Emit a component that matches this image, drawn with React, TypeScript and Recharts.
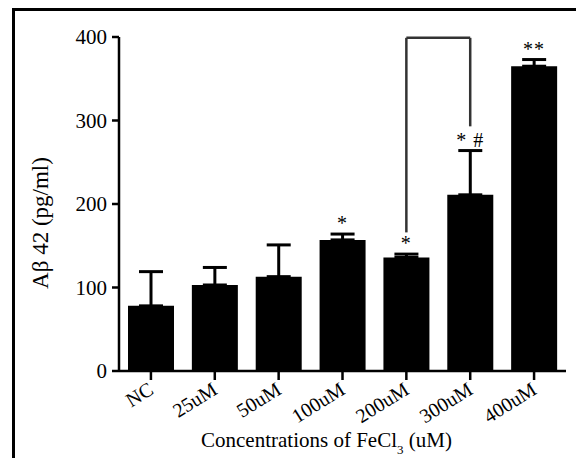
import {
  ComposedChart,
  Bar,
  ErrorBar,
  Scatter,
  XAxis,
  YAxis,
  ReferenceLine,
} from "recharts";

const categories = ["NC", "25uM", "50uM", "100uM", "200uM", "300uM", "400uM"];
const means = [78, 103, 113, 157, 136, 211, 365];
const sds = [41, 21, 38, 7, 4, 53, 8];
const marks = ["", "", "", "*", "*", "* #", "**"];
const yTicks = [0, 100, 200, 300, 400];

// bracket between 200uM and 300uM
const bracketFrom = "200uM";
const bracketTo = "300uM";
const bracketTop = 399;
const bracketLeftEnd = 166;
const bracketRightEnd = 293;

const FONT = '"Liberation Serif", "Times New Roman", serif';

const data = categories.map((name, i) => ({
  name,
  mean: means[i],
  err: [0, sds[i]],
  capTop: means[i] + sds[i],
  sig: marks[i],
}));

function SlantTick(props: any) {
  const { x, y, payload } = props;
  return (
    <g transform={`translate(${x - 3},${y})`}>
      <text
        x={0}
        y={0}
        dy={13}
        textAnchor="end"
        transform="rotate(-32)"
        fontFamily={FONT}
        fontSize={20}
        fill="#000"
      >
        {payload.value}
      </text>
    </g>
  );
}

function SigMark(props: any) {
  const { cx, cy, payload } = props;
  if (!payload || !payload.sig) return <g />;
  return (
    <text
      x={cx}
      y={cy - 4}
      textAnchor="middle"
      fontFamily={FONT}
      fontSize={20}
      letterSpacing={1}
      fill="#000"
    >
      {payload.sig}
    </text>
  );
}

function YTitle(props: any) {
  const { x, y, height } = props.viewBox;
  const cx = x + 40;
  const cy = y + height / 2 + 19;
  return (
    <text
      x={cx}
      y={cy}
      transform={`rotate(-90, ${cx}, ${cy})`}
      textAnchor="middle"
      dominantBaseline="central"
      fontFamily={FONT}
      fontSize={23}
      fill="#000"
    >
      Aβ 42 (pg/ml)
    </text>
  );
}

function XTitle(props: any) {
  const { x, y, width } = props.viewBox;
  return (
    <text
      x={x + width / 2 - 16}
      y={y + 76}
      textAnchor="middle"
      fontFamily={FONT}
      fontSize={21}
      fill="#000"
    >
      Concentrations of FeCl
      <tspan fontSize={13} dy={7}>
        3
      </tspan>
      <tspan dy={-7}> (uM)</tspan>
    </text>
  );
}

export default function App() {
  return (
    <div
      style={{
        position: "relative",
        width: 584,
        height: 466,
        margin: -8,
        overflow: "hidden",
        background: "#fff",
      }}
    >
      <div
        style={{
          position: "absolute",
          left: 12,
          top: 8,
          width: 600,
          height: 500,
          borderTop: "3px solid #000",
          borderLeft: "3px solid #000",
        }}
      />
      <div style={{ position: "absolute", left: 0, top: 0 }}>
        <ComposedChart
          width={584}
          height={466}
          data={data}
          margin={{ top: 37, right: 18, left: 0, bottom: 0 }}
        >
          <XAxis
            dataKey="name"
            height={95}
            interval={0}
            tickSize={9}
            tickMargin={2}
            axisLine={{ stroke: "#000", strokeWidth: 2.5 }}
            tickLine={{ stroke: "#000", strokeWidth: 2.5 }}
            tick={<SlantTick />}
            label={<XTitle />}
          />
          <YAxis
            width={119}
            domain={[0, 400]}
            ticks={yTicks}
            tickSize={7}
            tickMargin={5}
            axisLine={{ stroke: "#000", strokeWidth: 2.5 }}
            tickLine={{ stroke: "#000", strokeWidth: 2.5 }}
            tick={{ fill: "#000", fontSize: 21, fontFamily: FONT }}
            label={<YTitle />}
          />
          <Bar dataKey="mean" fill="#000" barSize={46} isAnimationActive={false}>
            <ErrorBar dataKey="err" direction="y" width={12} stroke="#000" strokeWidth={3} />
          </Bar>
          <Scatter dataKey="capTop" shape={<SigMark />} isAnimationActive={false} />
          <ReferenceLine
            segment={[
              { x: bracketFrom, y: bracketTop },
              { x: bracketTo, y: bracketTop },
            ]}
            stroke="#333"
            strokeWidth={2.5}
            ifOverflow="visible"
          />
          <ReferenceLine
            segment={[
              { x: bracketFrom, y: bracketLeftEnd },
              { x: bracketFrom, y: bracketTop },
            ]}
            stroke="#333"
            strokeWidth={2.5}
            ifOverflow="visible"
          />
          <ReferenceLine
            segment={[
              { x: bracketTo, y: bracketRightEnd },
              { x: bracketTo, y: bracketTop },
            ]}
            stroke="#333"
            strokeWidth={2.5}
            ifOverflow="visible"
          />
        </ComposedChart>
      </div>
    </div>
  );
}
